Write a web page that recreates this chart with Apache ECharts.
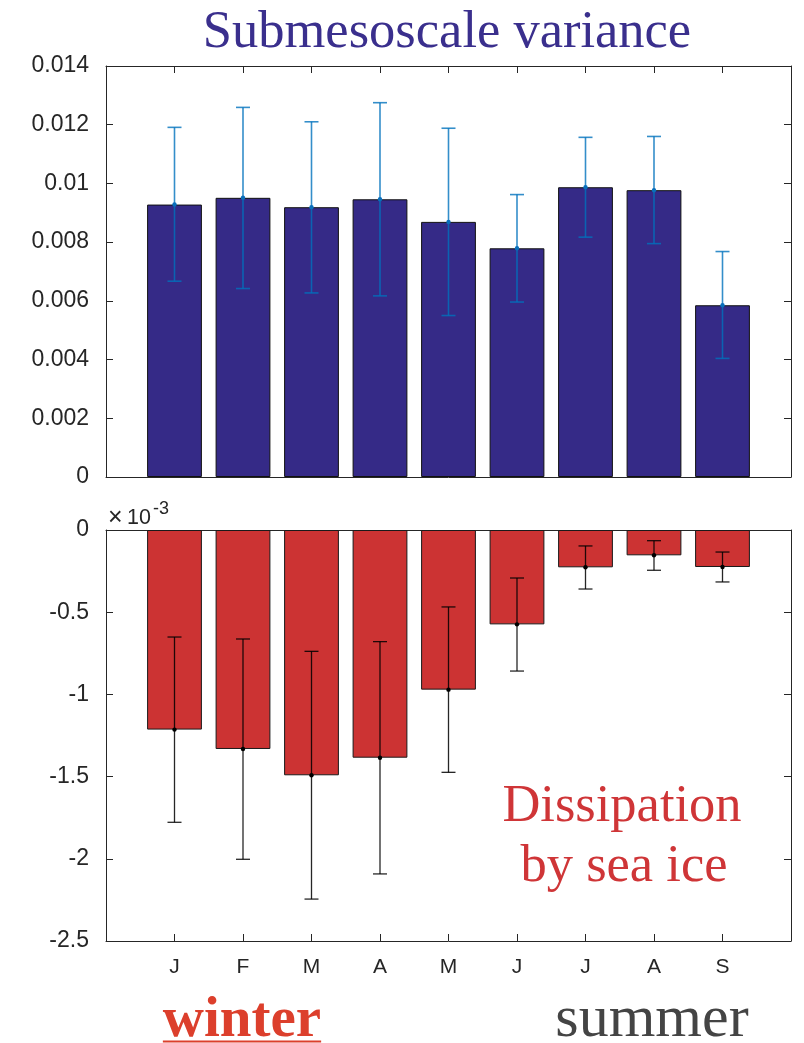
<!DOCTYPE html>
<html>
<head>
<meta charset="utf-8">
<script src="https://cdn.jsdelivr.net/npm/echarts@6/dist/echarts.min.js"></script>
<style>
  html, body { margin: 0; padding: 0; background: #fff; }
  #chart { width: 804px; height: 1043px; }
</style>
</head>
<body>
<div id="chart"></div>
<script>
// Month labels (January to September)
const months = ['J', 'F', 'M', 'A', 'M', 'J', 'J', 'A', 'S'];

// Submesoscale variance: mean and error-bar limits
const variance     = [0.00928, 0.00951, 0.00919, 0.00946, 0.00869, 0.00779, 0.00987, 0.00977, 0.00585];
const varianceHigh = [0.01191, 0.01259, 0.01210, 0.01275, 0.01188, 0.00962, 0.01157, 0.01160, 0.00768];
const varianceLow  = [0.00667, 0.00642, 0.00627, 0.00617, 0.00550, 0.00596, 0.00817, 0.00795, 0.00404];

// Dissipation by sea ice, in units of 1e-3
const dissipation     = [-1.214, -1.332, -1.492, -1.385, -0.971, -0.574, -0.227, -0.154, -0.225];
const dissipationHigh = [-0.651, -0.663, -0.738, -0.679, -0.468, -0.292, -0.097, -0.065, -0.134];
const dissipationLow  = [-1.778, -2.003, -2.245, -2.092, -1.474, -0.858, -0.359, -0.245, -0.316];

// Axis ticks
const varianceTicks = { min: 0, max: 0.014, interval: 0.002 };
const dissipationTicks = { min: -2.5, max: 0, interval: 0.5 };

// Padded category axis: an empty slot on each side gives a full unit of margin
const categories = [''].concat(months, ['']);
const pad = arr => [null].concat(arr, [null]);

const AXIS_COLOR = '#262626';
const SANS = '"Liberation Sans", Arial, sans-serif';
const SERIF = '"Liberation Serif", "Times New Roman", serif';

const chart = echarts.init(document.getElementById('chart'), null, { renderer: 'canvas' });

const tickIdx = (i) => i > 0 && i < categories.length - 1;

function xAxisDef(gridIndex, position, showLabels) {
  return {
    type: 'category', gridIndex, position, data: categories, boundaryGap: false,
    axisLine: { show: true, onZero: false, lineStyle: { color: AXIS_COLOR, width: 1 } },
    axisTick: { show: true, inside: true, length: 7, interval: tickIdx, lineStyle: { color: AXIS_COLOR, width: 1 } },
    axisLabel: { show: showLabels, interval: 0, margin: 16, fontFamily: SANS, fontSize: 21, color: AXIS_COLOR },
    splitLine: { show: false }
  };
}

function yAxisDef(gridIndex, position, ticks, showLabels, fmt) {
  return {
    type: 'value', gridIndex, position, min: ticks.min, max: ticks.max, interval: ticks.interval,
    axisLine: { show: true, onZero: false, lineStyle: { color: AXIS_COLOR, width: 1 } },
    axisTick: { show: true, inside: true, length: 7, lineStyle: { color: AXIS_COLOR, width: 1 } },
    axisLabel: { show: showLabels, margin: 17, fontFamily: SANS, fontSize: 23, color: AXIS_COLOR, formatter: fmt },
    splitLine: { show: false }
  };
}

// Error bar with caps and a dot at the mean
function errorBarRenderer(lows, highs, means, color, dotColor, lineWidth) {
  return function (params, api) {
    const i = params.dataIndex;
    const idx = api.value(0);
    const top = api.coord([idx, highs[i]]);
    const bot = api.coord([idx, lows[i]]);
    const mid = api.coord([idx, means[i]]);
    const cap = 7;
    const style = { stroke: color, lineWidth: lineWidth };
    return {
      type: 'group',
      children: [
        { type: 'line', shape: { x1: top[0], y1: top[1], x2: bot[0], y2: bot[1] }, style },
        { type: 'line', shape: { x1: top[0] - cap, y1: top[1], x2: top[0] + cap, y2: top[1] }, style },
        { type: 'line', shape: { x1: bot[0] - cap, y1: bot[1], x2: bot[0] + cap, y2: bot[1] }, style },
        { type: 'circle', shape: { cx: mid[0], cy: mid[1], r: 2.2 }, style: { fill: dotColor } }
      ]
    };
  };
}

const errData = (arr) => arr.map((v, i) => [i + 1, v]);

const fmtVariance = v => String(+v.toFixed(3));
const fmtDissipation = v => String(+v.toFixed(1));

// Measure the width of "winter" for its underline
const measureCtx = document.createElement('canvas').getContext('2d');
const WINTER_FONT = 'bold 57px ' + SERIF;
measureCtx.font = WINTER_FONT;
const winterWidth = measureCtx.measureText('winter').width;
const winterCenter = 242;

chart.setOption({
  animation: false,
  backgroundColor: '#ffffff',
  grid: [
    { left: 106, top: 66, width: 685, height: 411 },
    { left: 106, top: 530, width: 685, height: 411 }
  ],
  xAxis: [
    xAxisDef(0, 'bottom', false),
    xAxisDef(0, 'top', false),
    xAxisDef(1, 'bottom', true),
    xAxisDef(1, 'top', false)
  ],
  yAxis: [
    yAxisDef(0, 'left', varianceTicks, true, fmtVariance),
    yAxisDef(0, 'right', varianceTicks, false, fmtVariance),
    yAxisDef(1, 'left', dissipationTicks, true, fmtDissipation),
    yAxisDef(1, 'right', dissipationTicks, false, fmtDissipation)
  ],
  series: [
    {
      type: 'bar', xAxisIndex: 0, yAxisIndex: 0, data: pad(variance), barWidth: '80%',
      itemStyle: { color: '#352A87', borderColor: '#111111', borderWidth: 1 }, z: 2
    },
    {
      type: 'custom', xAxisIndex: 0, yAxisIndex: 0, data: errData(variance), z: 5,
      renderItem: errorBarRenderer(varianceLow, varianceHigh, variance, 'rgba(0,114,189,0.8)', '#0a6fbb', 1.6)
    },
    {
      type: 'bar', xAxisIndex: 2, yAxisIndex: 2, data: pad(dissipation), barWidth: '80%',
      itemStyle: { color: '#CC3333', borderColor: '#1a1a1a', borderWidth: 1 }, z: 2
    },
    {
      type: 'custom', xAxisIndex: 2, yAxisIndex: 2, data: errData(dissipation), z: 5,
      renderItem: errorBarRenderer(dissipationLow, dissipationHigh, dissipation, 'rgba(0,0,0,0.85)', '#000000', 1.3)
    }
  ],
  graphic: [
    {
      type: 'text', x: 447, y: 33,
      style: { text: 'Submesoscale variance', font: '52.5px ' + SERIF, fill: '#3a2f8d', align: 'center', verticalAlign: 'middle' }
    },
    // axis exponent: ×10^-3
    {
      type: 'text', x: 108, y: 518,
      style: { text: '\u00d7', font: '25px ' + SANS, fill: AXIS_COLOR, align: 'left', verticalAlign: 'middle' }
    },
    {
      type: 'text', x: 127, y: 518.5,
      style: { text: '10', font: '21.5px ' + SANS, fill: AXIS_COLOR, align: 'left', verticalAlign: 'middle' }
    },
    {
      type: 'text', x: 153, y: 509,
      style: { text: '-3', font: '18px ' + SANS, fill: AXIS_COLOR, align: 'left', verticalAlign: 'middle' }
    },
    {
      type: 'text', x: 622, y: 807,
      style: { text: 'Dissipation', font: '52.5px ' + SERIF, fill: '#cf3537', align: 'center', verticalAlign: 'middle' }
    },
    {
      type: 'text', x: 624, y: 867,
      style: { text: 'by sea ice', font: '52.5px ' + SERIF, fill: '#cf3537', align: 'center', verticalAlign: 'middle' }
    },
    {
      type: 'text', x: winterCenter, y: 1021,
      style: { text: 'winter', font: WINTER_FONT, fill: '#dc3f2c', align: 'center', verticalAlign: 'middle' }
    },
    {
      type: 'line',
      shape: { x1: winterCenter - winterWidth / 2, y1: 1041.5, x2: winterCenter + winterWidth / 2, y2: 1041.5 },
      style: { stroke: '#dc3f2c', lineWidth: 2 }
    },
    {
      type: 'text', x: 652, y: 1020,
      style: { text: 'summer', font: '60px ' + SERIF, fill: '#444444', align: 'center', verticalAlign: 'middle' }
    }
  ]
});
</script>
</body>
</html>
